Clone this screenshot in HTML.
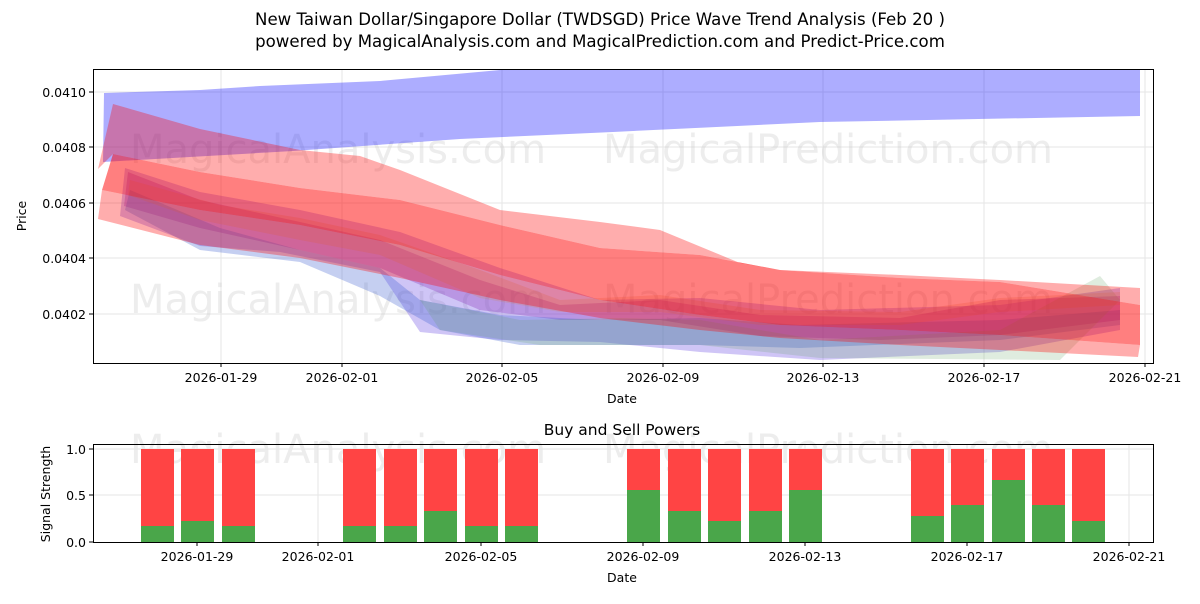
<!DOCTYPE html><html><head><style>body{margin:0;background:#fff;font-family:"DejaVu Sans","Liberation Sans",sans-serif}</style></head><body>
<svg width="1200" height="600" xmlns="http://www.w3.org/2000/svg" font-family="DejaVu Sans, Liberation Sans, sans-serif">
<text x="600" y="25" font-size="16.6" text-anchor="middle">New Taiwan Dollar/Singapore Dollar (TWDSGD) Price Wave Trend Analysis (Feb 20 )</text>
<text x="600" y="47" font-size="16.6" text-anchor="middle">powered by MagicalAnalysis.com and MagicalPrediction.com and Predict-Price.com</text>
<defs><clipPath id="c1"><rect x="93" y="69" width="1060" height="294"/></clipPath></defs>
<g stroke="#e6e6e6" stroke-width="1">
<line x1="221" y1="69" x2="221" y2="363"/><line x1="342" y1="69" x2="342" y2="363"/><line x1="502" y1="69" x2="502" y2="363"/><line x1="663" y1="69" x2="663" y2="363"/><line x1="823" y1="69" x2="823" y2="363"/><line x1="984" y1="69" x2="984" y2="363"/><line x1="1145" y1="69" x2="1145" y2="363"/>
<line x1="93" y1="92" x2="1153" y2="92"/><line x1="93" y1="147" x2="1153" y2="147"/><line x1="93" y1="203" x2="1153" y2="203"/><line x1="93" y1="258" x2="1153" y2="258"/><line x1="93" y1="314" x2="1153" y2="314"/>
</g>
<g font-size="40" fill="#ccc" opacity="0.35"><text x="130" y="163">MagicalAnalysis.com</text><text x="603" y="163">MagicalPrediction.com</text><text x="130" y="313">MagicalAnalysis.com</text><text x="603" y="313">MagicalPrediction.com</text><text x="130" y="463">MagicalAnalysis.com</text><text x="603" y="463">MagicalPrediction.com</text></g>
<g clip-path="url(#c1)">
<polygon fill="#0000ff" opacity="0.32" points="104,93 200,90 260,86 380,81 500,70 700,62 1140,60 1140,116 820,122 613,132 460,139 293,151 103,162"/>
<polygon fill="#6040e0" opacity="0.3" points="125,168 200,192 300,210 400,232 500,268 600,300 700,298 820,310 1000,305 1120,288 1120,330 1000,352 820,360 700,352 600,342 500,340 420,332 380,272 280,252 200,246 120,216"/>
<polygon fill="#9040c0" opacity="0.35" points="128,172 200,200 300,222 380,240 480,280 560,305 660,300 760,315 900,318 1000,300 1120,296 1120,320 1000,335 880,340 760,336 660,320 560,320 480,310 380,268 300,250 200,228 124,206"/>
<polygon fill="#4060d0" opacity="0.3" points="130,190 220,228 300,250 380,268 420,300 500,315 600,320 700,318 800,325 1000,320 1120,310 1120,325 1000,340 800,348 700,345 600,345 520,345 440,330 380,296 300,262 200,250 125,210"/>
<polygon fill="#60a060" opacity="0.2" points="420,300 520,320 620,318 700,320 820,340 1000,330 1100,276 1120,300 1060,360 820,358 700,345 540,345 440,330"/>
<polygon fill="#d08040" opacity="0.2" points="130,180 220,205 300,218 380,235 480,270 560,300 660,295 760,310 900,312 1000,298 1120,292 1120,305 1000,312 900,325 760,325 660,312 560,312 480,298 380,255 300,240 200,220 128,195"/>
<polygon fill="#ff0000" opacity="0.32" points="113,104 200,129 300,150 360,156 400,170 500,210 600,222 660,230 740,263 780,270 900,275 1000,280 1140,288 1140,305 1000,282 900,278 780,270 700,255 600,248 500,225 400,200 300,188 200,172 113,154 98,169"/>
<polygon fill="#ff0000" opacity="0.5" points="113,154 200,172 300,188 400,200 500,225 600,248 700,255 780,270 900,278 1000,282 1140,305 1140,345 1000,335 900,330 780,325 700,315 600,300 500,275 400,245 300,225 200,210 102,190"/>
<polygon fill="#ff0000" opacity="0.32" points="102,190 200,210 300,225 400,245 500,275 600,300 700,315 780,325 900,330 1000,335 1140,345 1138,357 1000,350 900,345 780,338 700,330 600,318 500,300 400,278 300,258 200,245 98,219"/>
</g>
<rect x="93.5" y="69.5" width="1060" height="294" fill="none" stroke="#000"/>
<g font-size="12.5" text-anchor="middle">
<g stroke="#000"><line x1="221" y1="363" x2="221" y2="367"/><line x1="342" y1="363" x2="342" y2="367"/><line x1="502" y1="363" x2="502" y2="367"/><line x1="663" y1="363" x2="663" y2="367"/><line x1="823" y1="363" x2="823" y2="367"/><line x1="984" y1="363" x2="984" y2="367"/><line x1="1145" y1="363" x2="1145" y2="367"/>
<line x1="89" y1="92" x2="93" y2="92"/><line x1="89" y1="147" x2="93" y2="147"/><line x1="89" y1="203" x2="93" y2="203"/><line x1="89" y1="258" x2="93" y2="258"/><line x1="89" y1="314" x2="93" y2="314"/></g>
<text x="221" y="382">2026-01-29</text><text x="342" y="382">2026-02-01</text><text x="502" y="382">2026-02-05</text><text x="663" y="382">2026-02-09</text><text x="823" y="382">2026-02-13</text><text x="984" y="382">2026-02-17</text><text x="1145" y="382">2026-02-21</text>
<text x="622" y="403">Date</text>
<g text-anchor="end"><text x="86" y="97">0.0410</text><text x="86" y="152">0.0408</text><text x="86" y="208">0.0406</text><text x="86" y="263">0.0404</text><text x="86" y="319">0.0402</text></g>
<text transform="translate(26,216) rotate(-90)">Price</text>
</g>
<text x="622" y="435" font-size="15.5" text-anchor="middle">Buy and Sell Powers</text>
<g stroke="#e6e6e6"><line x1="197" y1="444" x2="197" y2="542"/><line x1="318" y1="444" x2="318" y2="542"/><line x1="481" y1="444" x2="481" y2="542"/><line x1="643" y1="444" x2="643" y2="542"/><line x1="805" y1="444" x2="805" y2="542"/><line x1="967" y1="444" x2="967" y2="542"/><line x1="1129" y1="444" x2="1129" y2="542"/>
<line x1="93" y1="449" x2="1153" y2="449"/><line x1="93" y1="495" x2="1153" y2="495"/></g>
<g>
<rect x="141" y="449" width="33" height="93" fill="#ff4444"/><rect x="141" y="526" width="33" height="16" fill="#4aa64a"/>
<rect x="181" y="449" width="33" height="93" fill="#ff4444"/><rect x="181" y="521" width="33" height="21" fill="#4aa64a"/>
<rect x="222" y="449" width="33" height="93" fill="#ff4444"/><rect x="222" y="526" width="33" height="16" fill="#4aa64a"/>
<rect x="343" y="449" width="33" height="93" fill="#ff4444"/><rect x="343" y="526" width="33" height="16" fill="#4aa64a"/>
<rect x="384" y="449" width="33" height="93" fill="#ff4444"/><rect x="384" y="526" width="33" height="16" fill="#4aa64a"/>
<rect x="424" y="449" width="33" height="93" fill="#ff4444"/><rect x="424" y="511" width="33" height="31" fill="#4aa64a"/>
<rect x="465" y="449" width="33" height="93" fill="#ff4444"/><rect x="465" y="526" width="33" height="16" fill="#4aa64a"/>
<rect x="505" y="449" width="33" height="93" fill="#ff4444"/><rect x="505" y="526" width="33" height="16" fill="#4aa64a"/>
<rect x="627" y="449" width="33" height="93" fill="#ff4444"/><rect x="627" y="490" width="33" height="52" fill="#4aa64a"/>
<rect x="668" y="449" width="33" height="93" fill="#ff4444"/><rect x="668" y="511" width="33" height="31" fill="#4aa64a"/>
<rect x="708" y="449" width="33" height="93" fill="#ff4444"/><rect x="708" y="521" width="33" height="21" fill="#4aa64a"/>
<rect x="749" y="449" width="33" height="93" fill="#ff4444"/><rect x="749" y="511" width="33" height="31" fill="#4aa64a"/>
<rect x="789" y="449" width="33" height="93" fill="#ff4444"/><rect x="789" y="490" width="33" height="52" fill="#4aa64a"/>
<rect x="911" y="449" width="33" height="93" fill="#ff4444"/><rect x="911" y="516" width="33" height="26" fill="#4aa64a"/>
<rect x="951" y="449" width="33" height="93" fill="#ff4444"/><rect x="951" y="505" width="33" height="37" fill="#4aa64a"/>
<rect x="992" y="449" width="33" height="93" fill="#ff4444"/><rect x="992" y="480" width="33" height="62" fill="#4aa64a"/>
<rect x="1032" y="449" width="33" height="93" fill="#ff4444"/><rect x="1032" y="505" width="33" height="37" fill="#4aa64a"/>
<rect x="1072" y="449" width="33" height="93" fill="#ff4444"/><rect x="1072" y="521" width="33" height="21" fill="#4aa64a"/>
</g>
<rect x="93.5" y="444.5" width="1060" height="98" fill="none" stroke="#000"/>
<g font-size="12.5" text-anchor="middle">
<g stroke="#000"><line x1="197" y1="542" x2="197" y2="546"/><line x1="318" y1="542" x2="318" y2="546"/><line x1="481" y1="542" x2="481" y2="546"/><line x1="643" y1="542" x2="643" y2="546"/><line x1="805" y1="542" x2="805" y2="546"/><line x1="967" y1="542" x2="967" y2="546"/><line x1="1129" y1="542" x2="1129" y2="546"/>
<line x1="89" y1="449" x2="93" y2="449"/><line x1="89" y1="495" x2="93" y2="495"/><line x1="89" y1="542" x2="93" y2="542"/></g>
<text x="197" y="561">2026-01-29</text><text x="318" y="561">2026-02-01</text><text x="481" y="561">2026-02-05</text><text x="643" y="561">2026-02-09</text><text x="805" y="561">2026-02-13</text><text x="967" y="561">2026-02-17</text><text x="1129" y="561">2026-02-21</text>
<text x="622" y="582">Date</text>
<g text-anchor="end"><text x="86" y="454">1.0</text><text x="86" y="500">0.5</text><text x="86" y="547">0.0</text></g>
<text transform="translate(50,494) rotate(-90)">Signal Strength</text>
</g>
</svg></body></html>
